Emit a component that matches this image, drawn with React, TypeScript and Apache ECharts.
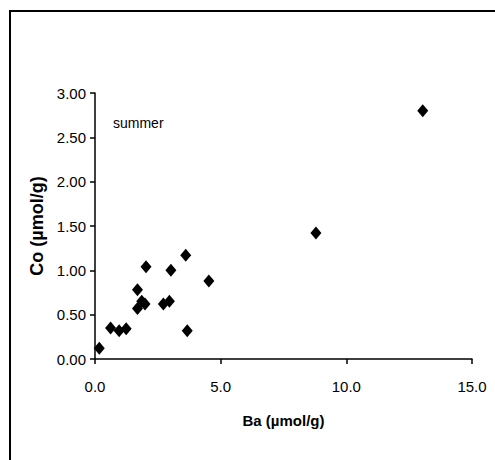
import React, { useEffect, useRef } from "react";
import * as echarts from "echarts";

const baValues = [0.17, 0.62, 0.96, 1.24, 1.69, 1.69, 1.86, 1.99, 2.03, 2.72, 2.96, 3.02, 3.61, 3.67, 4.53, 8.79, 13.04];
const coValues = [0.12, 0.35, 0.32, 0.34, 0.57, 0.78, 0.65, 0.62, 1.04, 0.62, 0.65, 1.0, 1.17, 0.32, 0.88, 1.42, 2.8];
const xTitle = "Ba (µmol/g)";
const yTitle = "Co (µmol/g)";
const seasonLabel = "summer";

export default function App() {
  const ref = useRef<HTMLDivElement>(null);
  useEffect(() => {
    if (!ref.current) return;
    const chart = echarts.init(ref.current, null, { renderer: "svg" });
    const font = "Liberation Sans, Arial, sans-serif";
    chart.setOption({
      animation: false,
      backgroundColor: "#ffffff",
      grid: { left: 95, right: 23, top: 93, bottom: 101, containLabel: false },
      xAxis: {
        type: "value",
        min: 0,
        max: 15,
        interval: 5,
        name: xTitle,
        nameLocation: "middle",
        nameGap: 54,
        nameTextStyle: { fontFamily: font, fontSize: 15, fontWeight: "bold", color: "#000" },
        axisLine: { show: true, onZero: false, lineStyle: { color: "#000", width: 1.5 } },
        axisTick: { show: true, inside: false, length: 5, lineStyle: { color: "#000", width: 1.5 } },
        axisLabel: {
          margin: 20,
          fontFamily: font,
          fontSize: 15,
          color: "#000",
          formatter: (v: number) => v.toFixed(1),
        },
        splitLine: { show: false },
      },
      yAxis: {
        type: "value",
        min: 0,
        max: 3,
        interval: 0.5,
        name: yTitle,
        nameLocation: "middle",
        nameGap: 47,
        nameRotate: 90,
        nameTextStyle: { fontFamily: font, fontSize: 18, fontWeight: "bold", color: "#000" },
        axisLine: { show: true, onZero: false, lineStyle: { color: "#000", width: 1.5 } },
        axisTick: { show: true, inside: false, length: 5, lineStyle: { color: "#000", width: 1.5 } },
        axisLabel: {
          margin: 9,
          fontFamily: font,
          fontSize: 15,
          color: "#000",
          formatter: (v: number) => v.toFixed(2),
        },
        splitLine: { show: false },
      },
      series: [
        {
          type: "scatter",
          data: baValues.map((x, i) => [x, coValues[i]]),
          symbol: "diamond",
          symbolSize: [11, 13],
          itemStyle: { color: "#000", opacity: 1 },
        },
      ],
      graphic: [
        {
          type: "rect",
          shape: { x: 10, y: 11, width: 520, height: 520 },
          style: { fill: "none", stroke: "#000", lineWidth: 2 },
          silent: true,
        },
        {
          type: "text",
          x: 113,
          y: 116,
          style: { text: seasonLabel, fontFamily: font, fontSize: 14, fill: "#000" },
          silent: true,
        },
      ],
    });
    return () => chart.dispose();
  }, []);
  return (
    <div
      ref={ref}
      style={{ position: "absolute", left: 0, top: 0, width: 495, height: 460 }}
    />
  );
}
